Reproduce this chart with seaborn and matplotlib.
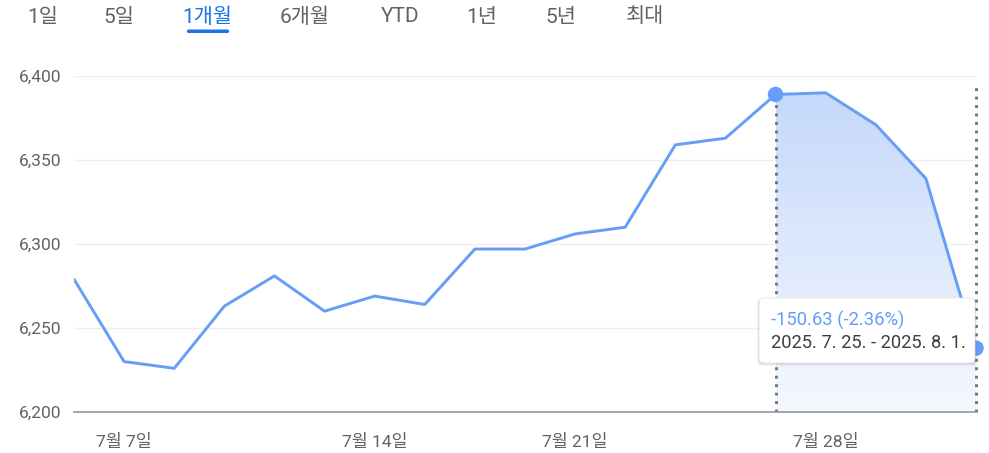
import numpy as np
import pandas as pd
import matplotlib
matplotlib.use('Agg')
import matplotlib.pyplot as plt
import matplotlib.transforms as mtransforms
from matplotlib.colors import LinearSegmentedColormap
from matplotlib.patches import FancyBboxPatch
import seaborn as sns

# trading days shown in the 1-month view
dates = ['7/3', '7/7', '7/8', '7/9', '7/10', '7/11', '7/14', '7/16', '7/17', '7/18',
         '7/21', '7/22', '7/23', '7/24', '7/25', '7/28', '7/29', '7/31', '8/1']
close = [6279, 6230, 6226, 6263, 6281, 6260, 6269, 6264, 6297, 6297,
         6306, 6310, 6359, 6363, 6389, 6390, 6371, 6339, 6238]

tick_dates = ['7/7', '7/14', '7/21', '7/28']
tick_labels = ['7월 7일', '7월 14일', '7월 21일', '7월 28일']
y_ticks = [6200, 6250, 6300, 6350, 6400]

tabs = ['1일', '5일', '1개월', '6개월', 'YTD', '1년', '5년', '최대']
active_tab = '1개월'

sel_start, sel_end = '7/25', '8/1'
tip_change = '-150.63 (-2.36%)'
tip_range = '2025. 7. 25. - 2025. 8. 1.'

W, H = 989, 453
line_c = '#669df6'
gray = '#5f6368'
blue = '#1a73e8'

sns.set_theme(style='white')
plt.rcParams['font.family'] = ['Roboto', 'Noto Sans CJK KR', 'DejaVu Sans']

df = pd.DataFrame({'date': dates, 'close': close})
df['pos'] = np.arange(len(df))

fig = plt.figure(figsize=(W / 100, H / 100), dpi=100)
ax = fig.add_axes([74 / W, 41 / H, 902 / W, 336 / H])

# pixel coords (top-left origin) -> figure
px = mtransforms.Affine2D().scale(1 / W, -1 / H).translate(0, 1) + fig.transFigure

sns.lineplot(data=df, x='pos', y='close', color=line_c, linewidth=2.1, ax=ax, zorder=3)

i0 = dates.index(sel_start)
i1 = dates.index(sel_end)
sel = df.iloc[i0:i1 + 1]

# gradient fill under the selected range
poly = ax.fill_between(sel['pos'], sel['close'], y_ticks[0], color='none', lw=0)
cmap = LinearSegmentedColormap.from_list('fade', ['#f5f8fe', '#c5d9fb'])
grad = np.linspace(0, 1, 256).reshape(-1, 1)
im = ax.imshow(grad, extent=[i0, i1, y_ticks[0], sel['close'].max()], origin='lower',
               aspect='auto', cmap=cmap, zorder=1)
im.set_clip_path(poly.get_paths()[0], transform=ax.transData)

for i in (i0, i1):
    ax.axvline(i, ymax=0.98, color='#757575', lw=2.1, ls=(0, (1.0, 1.9)),
               zorder=2, clip_on=False)

sns.scatterplot(data=df.iloc[[i0, i1]], x='pos', y='close', color=line_c, s=125,
                edgecolor='none', ax=ax, zorder=4, clip_on=False)

ax.set_xlim(0, len(dates) - 1)
ax.set_ylim(y_ticks[0], y_ticks[-1])
ax.set_yticks(y_ticks, [f'{v:,}' for v in y_ticks])
ax.set_xticks([dates.index(d) for d in tick_dates], tick_labels)
ax.set_xlabel('')
ax.set_ylabel('')
ax.yaxis.grid(True, color='#eeeeee', lw=1)
ax.set_axisbelow(True)
for s in ['top', 'right', 'left']:
    ax.spines[s].set_visible(False)
ax.spines['bottom'].set_color('#9aa0a6')
ax.spines['bottom'].set_linewidth(1.3)
ax.tick_params(axis='x', direction='out', length=6, width=1.6, color=gray, pad=10,
               labelsize=12.5, labelcolor=gray)
ax.tick_params(axis='y', length=0, pad=9, labelsize=12.5, labelcolor=gray)

# period tabs
tab_x = [43, 119, 207, 305, 400, 482, 561, 645]
for t, x in zip(tabs, tab_x):
    fig.text(x, 17, t, transform=px, ha='center', va='center', fontsize=15,
             color=blue if t == active_tab else gray)
fig.add_artist(FancyBboxPatch((187, 29.5), 42, 3.5, boxstyle='round,pad=0,rounding_size=1.5',
                              transform=px, color=blue, lw=0))

# tooltip
for off, a in [(4, 0.04), (2, 0.10)]:
    fig.add_artist(FancyBboxPatch((759 - off / 2, 298 + off / 4), 216 + off, 65 + off / 2,
                                  boxstyle='round,pad=0,rounding_size=5', transform=px,
                                  facecolor='black', alpha=a, lw=0))
fig.add_artist(FancyBboxPatch((759, 298), 216, 65, boxstyle='round,pad=0,rounding_size=5',
                              transform=px, facecolor='white', edgecolor='#e3e3e3', lw=0.6))
fig.text(771, 320, tip_change, transform=px, va='center', fontsize=13.2, color=line_c)
fig.text(771, 343, tip_range, transform=px, va='center', fontsize=13.2, color='#3c4043')

fig.savefig('out.png', dpi=100)
